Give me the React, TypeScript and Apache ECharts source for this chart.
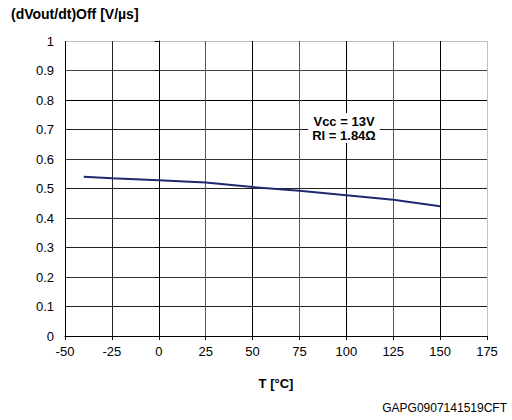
import React, { useEffect, useRef } from "react";
import * as echarts from "echarts";

const temperatures = [-40, -25, 0, 25, 50, 75, 100, 125, 150];
const slewRate = [0.54, 0.535, 0.528, 0.52, 0.505, 0.492, 0.477, 0.462, 0.44];
const titleText = "(dVout/dt)Off [V/µs]";
const xAxisName = "T [°C]";
const annotation = ["Vcc = 13V", "Rl = 1.84Ω"];
const codeText = "GAPG0907141519CFT";

const FONT = "'Liberation Sans', Arial, sans-serif";

export default function App() {
  const ref = useRef<HTMLDivElement>(null);
  useEffect(() => {
    document.body.style.margin = "0";
    if (!ref.current) return;
    const chart = echarts.init(ref.current, null, { renderer: "svg" });
    const xLineColors = ["#000", "#222", "#000", "#555", "#000", "#555", "#000", "#555", "#000", "#c0c0c0"];
    const yLineColors = ["#000", "#222", "#333", "#222", "#333", "#222", "#333", "#222", "#000", "#444", "#c0c0c0"];
    chart.setOption({
      animation: false,
      textStyle: { fontFamily: FONT },
      grid: { left: 65, right: 25, top: 41, bottom: 84, containLabel: false },
      xAxis: {
        type: "value",
        min: -50,
        max: 175,
        interval: 25,
        name: xAxisName,
        nameLocation: "middle",
        nameGap: 41,
        nameTextStyle: { fontFamily: FONT, fontSize: 13, fontWeight: "bold", color: "#000" },
        axisLine: { show: true, onZero: false, lineStyle: { color: "#000", width: 1 } },
        axisTick: { show: true, length: 4, lineStyle: { color: "#000" } },
        axisLabel: { color: "#000", fontSize: 13, fontFamily: FONT, margin: 9 },
        splitLine: { show: true, lineStyle: { color: xLineColors, width: 1 } },
      },
      yAxis: {
        type: "value",
        min: 0,
        max: 1,
        interval: 0.1,
        axisLine: { show: true, lineStyle: { color: "#000", width: 1 } },
        axisTick: { show: true, length: 4, lineStyle: { color: "#000" } },
        axisLabel: {
          color: "#000",
          fontSize: 13,
          fontFamily: FONT,
          margin: 11,
          formatter: (v: number) => String(Math.round(v * 10) / 10),
        },
        splitLine: { show: true, lineStyle: { color: yLineColors, width: 1 } },
      },
      series: [
        {
          type: "line",
          data: temperatures.map((t, i) => [t, slewRate[i]]),
          showSymbol: false,
          symbol: "none",
          lineStyle: { color: "#1f2a6e", width: 2 },
        },
      ],
      graphic: [
        {
          type: "text",
          x: 11,
          y: 14,
          style: { text: titleText, font: `bold 14px ${FONT}`, fill: "#000", verticalAlign: "middle" },
        },
        {
          type: "text",
          x: 507,
          y: 408,
          style: { text: codeText, font: `12px ${FONT}`, fill: "#000", align: "right", verticalAlign: "middle" },
        },
        {
          type: "text",
          x: 344,
          y: 128,
          style: {
            text: annotation.join("\n"),
            font: `bold 13px ${FONT}`,
            fill: "#000",
            align: "center",
            verticalAlign: "middle",
            lineHeight: 14,
            backgroundColor: "#fff",
            padding: [1, 4, 1, 4],
          },
          z: 100,
        },
      ],
    });
    return () => chart.dispose();
  }, []);
  return <div ref={ref} style={{ width: 512, height: 420 }} />;
}
